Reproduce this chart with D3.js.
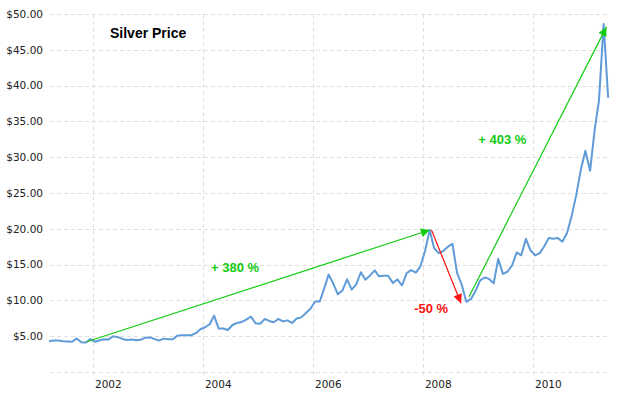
<!DOCTYPE html>
<html>
<head>
<meta charset="utf-8">
<script src="https://cdn.jsdelivr.net/npm/d3@7"></script>
<style>
  html, body { margin: 0; padding: 0; background: #fff; }
  svg { display: block; }
</style>
</head>
<body>
<svg id="chart" width="618" height="395"></svg>
<script>
// ---- Data (monthly closing silver price, USD/oz), starting March 2001 ----
const startMonth = "2001-03";
const prices2001 = [4.31, 4.39, 4.41, 4.29, 4.25, 4.22, 4.69, 4.16, 4.11, 4.59];
const prices2002 = [4.22, 4.43, 4.58, 4.55, 5.00, 4.87, 4.62, 4.48, 4.53, 4.43, 4.52, 4.80];
const prices2003 = [4.83, 4.59, 4.39, 4.66, 4.56, 4.56, 5.08, 5.13, 5.12, 5.13, 5.42, 5.97];
const prices2004 = [6.25, 6.67, 7.87, 6.07, 6.08, 5.87, 6.57, 6.85, 6.99, 7.32, 7.75, 6.81];
const prices2005 = [6.74, 7.41, 7.13, 6.95, 7.41, 7.06, 7.21, 6.85, 7.46, 7.63, 8.25, 8.83];
const prices2006 = [9.84, 9.85, 11.57, 13.60, 12.37, 10.85, 11.38, 12.94, 11.51, 12.25, 13.93, 12.90];
const prices2007 = [13.49, 14.20, 13.37, 13.44, 13.45, 12.45, 12.93, 12.08, 13.82, 14.22, 13.87, 14.76];
const prices2008 = [16.90, 19.83, 17.30, 16.60, 16.90, 17.50, 17.90, 13.80, 12.20, 9.80, 10.20, 11.30];
const prices2009 = [12.80, 13.20, 13.00, 12.40, 15.80, 13.70, 14.00, 14.90, 16.70, 16.30, 18.60, 17.00];
const prices2010 = [16.30, 16.60, 17.50, 18.70, 18.60, 18.70, 18.20, 19.40, 21.80, 24.70, 28.30, 30.90];
const prices2011 = [28.10, 33.90, 37.90, 48.60, 38.30];

const yTickValues = [5, 10, 15, 20, 25, 30, 35, 40, 45, 50];
const xTickYears = ["2002", "2004", "2006", "2008", "2010"];

const chartTitle = "Silver Price";

// Annotation arrows: [startDate, startValue, endDate, endValue]
const arrowUp1 = ["2001-11-21", 4.23, "2008-02-16", 19.83];
const arrowDown = ["2008-02-27", 19.83, "2008-09-10", 9.6];
const arrowUp2 = ["2008-11-02", 10.5, "2011-05-04", 48.2];
// Annotation labels: [date, value, text]
const label380 = ["2004-02-24", 13.9, "+ 380 %"];
const label403 = ["2009-01-03", 31.8, "+ 403 %"];
const labelDown = ["2007-11-04", 8.2, "-50 %"];

// ---- Build series ----
const allPrices = [].concat(prices2001, prices2002, prices2003, prices2004, prices2005,
  prices2006, prices2007, prices2008, prices2009, prices2010, prices2011);
const parseMonth = d3.timeParse("%Y-%m");
const parseDay = d3.timeParse("%Y-%m-%d");
const m0 = parseMonth(startMonth);
const series = allPrices.map((v, i) => {
  const d = d3.timeMonth.offset(m0, i);
  return { date: d3.timeDay.offset(d, 14), value: v };
});

// ---- Scales ----
const plotLeft = 50, plotRight = 607, plotTop = 14, plotBottom = 372;
const base = d3.scaleTime()
  .domain([parseDay("2002-01-01"), parseDay("2010-01-01")])
  .range([93, 533]);
const x = d3.scaleTime()
  .domain([base.invert(plotLeft), base.invert(plotRight)])
  .range([plotLeft, plotRight]);
const y = d3.scaleLinear().domain([0, 50]).range([plotBottom, plotTop]);

const svg = d3.select("#chart");

// ---- Grid ----
const grid = svg.append("g");
grid.selectAll("line.h")
  .data([0].concat(yTickValues))
  .join("line")
  .attr("x1", plotLeft).attr("x2", plotRight)
  .attr("y1", d => Math.round(y(d)) + 0.5).attr("y2", d => Math.round(y(d)) + 0.5)
  .attr("stroke", "#e0e0e0").attr("stroke-width", 1)
  .attr("stroke-dasharray", "4,3");
grid.selectAll("line.v")
  .data(xTickYears)
  .join("line")
  .attr("x1", d => Math.round(x(parseDay(d + "-01-01"))) + 0.5)
  .attr("x2", d => Math.round(x(parseDay(d + "-01-01"))) + 0.5)
  .attr("y1", plotTop).attr("y2", plotBottom + 3)
  .attr("stroke", "#e0e0e0").attr("stroke-width", 1)
  .attr("stroke-dasharray", "4,3");

// ---- Axes ----
const yAxis = d3.axisLeft(y)
  .tickValues(yTickValues)
  .tickFormat(d => "$" + d.toFixed(2))
  .tickSize(0).tickPadding(7);
const gy = svg.append("g").attr("transform", `translate(${plotLeft},0)`).call(yAxis);
gy.select(".domain").remove();
gy.selectAll("text")
  .attr("font-family", "DejaVu Sans, Verdana, sans-serif")
  .attr("font-size", "10.5px")
  .attr("fill", "#222");

const xAxis = d3.axisBottom(x)
  .tickValues(xTickYears.map(s => parseDay(s + "-01-01")))
  .tickFormat(d3.timeFormat("%Y"))
  .tickSize(0);
const gx = svg.append("g").attr("transform", `translate(0,${plotBottom})`).call(xAxis);
gx.select(".domain").remove();
gx.selectAll("text")
  .attr("text-anchor", "start")
  .attr("x", 1.5)
  .attr("y", 16)
  .attr("dy", 0)
  .attr("font-family", "DejaVu Sans, Verdana, sans-serif")
  .attr("font-size", "10.5px")
  .attr("fill", "#222");

// ---- Price line ----
const line = d3.line().x(d => x(d.date)).y(d => y(d.value));
svg.append("path")
  .datum(series)
  .attr("d", line)
  .attr("fill", "none")
  .attr("stroke", "#5f9bd8")
  .attr("stroke-width", 2)
  .attr("stroke-linejoin", "round");

// ---- Arrow markers ----
const defs = svg.append("defs");
function marker(id, color) {
  defs.append("marker")
    .attr("id", id)
    .attr("viewBox", "0 0 10 10")
    .attr("refX", 10).attr("refY", 5)
    .attr("markerUnits", "userSpaceOnUse")
    .attr("markerWidth", 10).attr("markerHeight", 9)
    .attr("orient", "auto")
    .append("path")
    .attr("d", "M0,0 L10,5 L0,10 Z")
    .attr("fill", color);
}
marker("headGreen", "#11cc11");
marker("headRed", "#ff1111");

function arrow(a, color, mid) {
  svg.append("line")
    .attr("x1", x(parseDay(a[0]))).attr("y1", y(a[1]))
    .attr("x2", x(parseDay(a[2]))).attr("y2", y(a[3]))
    .attr("stroke", color).attr("stroke-width", 1.2)
    .attr("marker-end", `url(#${mid})`);
}
arrow(arrowUp1, "#11cc11", "headGreen");
arrow(arrowDown, "#ff1111", "headRed");
arrow(arrowUp2, "#11cc11", "headGreen");

// ---- Labels ----
function label(l, color) {
  svg.append("text")
    .attr("x", x(parseDay(l[0])))
    .attr("y", y(l[1]))
    .attr("font-family", "Liberation Sans, Arial, sans-serif")
    .attr("font-weight", "bold")
    .attr("font-size", "13px")
    .attr("fill", color)
    .text(l[2]);
}
label(label380, "#11cc11");
label(label403, "#11cc11");
label(labelDown, "#ff1111");

svg.append("text")
  .attr("x", 110).attr("y", 38)
  .attr("font-family", "Liberation Sans, Arial, sans-serif")
  .attr("font-weight", "bold")
  .attr("font-size", "14px")
  .attr("fill", "#000")
  .text(chartTitle);
</script>
</body>
</html>
